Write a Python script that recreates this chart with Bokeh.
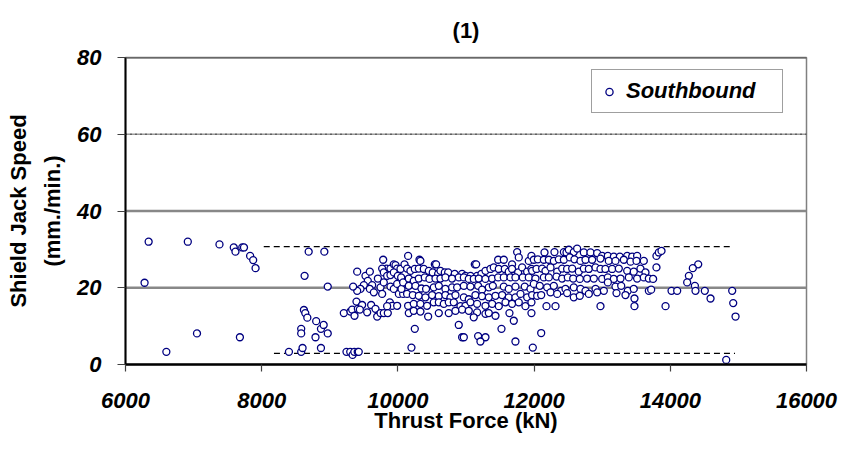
from bokeh.plotting import figure
from bokeh.models import Range1d, FixedTicker, Span, Legend, LegendItem
from bokeh.embed import file_html
from bokeh.resources import INLINE

# ---------------- data ----------------
x_ticks = [6000, 8000, 10000, 12000, 14000, 16000]
y_ticks = [0, 20, 40, 60, 80]
solid_grid = [20, 40]
dotted_grid = [60]
top_grid = [80]
chart_title = "(1)"

# envelope lines (dashed)
upper_x = [8030, 14930]
upper_y = [30.7, 30.7]
lower_x = [8180, 14950]
lower_y = [2.9, 2.9]

# sparse points, low thrust
thrust_a = [6280, 6340, 6600, 6915, 7050, 7380, 7590, 7615, 7680, 7715, 7740, 7830, 7875, 7910,
            8400, 8580, 8580, 8580, 8600, 8620, 8640, 8670, 8630, 8690, 8790, 8800, 8870, 8870,
            8910, 8970, 8920, 8970, 9245, 9300, 9335, 9360, 9410, 9425]
speed_a = [21.3, 32.0, 3.3, 32.0, 8.1, 31.3, 30.5, 29.4, 7.1, 30.5, 30.5, 28.3, 27.2, 25.1,
           3.3, 9.3, 8.1, 3.3, 4.3, 14.2, 13.4, 12.2, 23.1, 29.4, 7.1, 11.3, 9.3, 4.3,
           10.3, 8.1, 29.4, 20.3, 3.3, 3.3, 2.5, 3.3, 3.3, 3.3]

# 9200 - 10100 kN
thrust_b = [9206, 9304, 9328, 9363, 9412, 9392, 9475, 9441, 9549, 9607, 9671, 9696, 9745, 9793,
            9852, 9882, 9916, 9989, 9842, 9402, 9524, 9588, 9558, 9622, 9500, 9451, 9402, 9343,
            9588, 9647, 9706, 9745, 9793, 9769, 9891, 9940, 9989, 10014, 10077, 10053, 9784, 9833,
            9891, 9940, 9965, 9989, 10038, 10097, 9769, 9793, 9842, 9891, 9940, 9999, 10048, 10077]
speed_b = [13.4, 13.8, 14.3, 12.7, 14.5, 16.4, 15.5, 14.3, 13.6, 15.5, 14.5, 12.5, 13.4, 13.4,
           13.4, 16.2, 15.3, 15.3, 15.2, 24.2, 23.1, 24.2, 21.8, 20.7, 20.7, 19.7, 19.2, 20.3,
           19.7, 18.8, 22.4, 20.1, 21.4, 18.4, 20.3, 19.7, 21.0, 18.4, 18.4, 19.7, 27.3, 25.0,
           25.0, 26.1, 25.9, 25.0, 24.9, 26.1, 25.0, 24.0, 23.1, 23.3, 24.0, 23.1, 22.7, 21.4]

# 10100 - 11980 kN
thrust_c = [10150, 10317, 10331, 10542, 10561, 11129, 11149, 11472, 11555, 11677, 11751, 11775, 11922, 11961,
            10135, 10184, 10248, 10307, 10380, 10454, 10512, 10591, 10625, 10689, 10738, 10835, 10943, 10992,
            11066, 11163, 11227, 11286, 11359, 11408, 11482, 11570, 11628, 11677, 11766, 11824, 11898, 11961,
            10160, 10233, 10307, 10395, 10463, 10552, 10625, 10698, 10796, 10894, 10968, 11041, 11114, 11188,
            11286, 11384, 11472, 11555, 11653, 11726, 11834, 11922,
            10160, 10258, 10346, 10414, 10527, 10601, 10698, 10796, 10870, 10968, 11066, 11178, 11237, 11335,
            11394, 11555, 11628, 11726, 11863, 11947,
            10135, 10219, 10307, 10405, 10503, 10601, 10698, 10772, 10845, 10968, 11041, 11139, 11237, 11335,
            11433, 11531, 11628, 11726, 11800, 11898, 11971,
            10150, 10233, 10331, 10429, 10527, 10601, 10674, 10747, 10821, 10919, 10992, 11066, 11163, 11286,
            11384, 11482, 11580, 11677, 11775, 11873, 11961,
            10160, 10233, 10331, 10444, 10601, 10747, 10845, 10943, 11041, 11163, 11286, 11335, 11433, 11638, 11961,
            11114, 11702, 10248, 10894, 11521, 10943, 10968, 11178, 11286, 11212, 11726, 10199, 11981]
speed_c = [28.3, 27.3, 27.0, 26.1, 26.1, 26.1, 26.1, 27.3, 27.3, 26.1, 29.3, 27.9, 27.0, 28.3,
           25.0, 24.4, 24.9, 25.0, 24.9, 24.4, 24.0, 23.6, 24.4, 24.0, 24.0, 23.6, 23.6, 23.1,
           23.1, 23.1, 23.6, 24.4, 24.9, 25.3, 24.9, 24.9, 24.2, 24.9, 24.0, 25.3, 24.2, 24.9,
           22.4, 21.8, 22.4, 22.7, 22.3, 22.4, 22.4, 22.7, 22.4, 22.7, 22.7, 22.3, 22.3, 22.4,
           22.3, 22.4, 22.7, 22.7, 22.7, 22.7, 22.7, 22.7,
           20.5, 20.5, 19.8, 19.7, 20.1, 20.5, 19.7, 20.1, 20.1, 20.5, 20.3, 20.5, 19.5, 20.1,
           20.5, 20.3, 19.7, 20.3, 20.3, 19.7,
           18.4, 18.1, 17.9, 17.5, 18.1, 17.8, 18.1, 17.5, 18.1, 17.5, 17.0, 18.1, 17.8, 17.5,
           17.9, 18.1, 17.5, 17.5, 18.4, 17.5, 18.1,
           15.3, 15.8, 15.8, 15.3, 16.2, 16.2, 15.8, 16.2, 16.2, 15.2, 15.3, 16.2, 15.8, 15.3,
           15.8, 15.2, 16.2, 15.8, 16.2, 15.2, 16.2,
           13.4, 14.0, 13.8, 12.5, 13.4, 13.4, 14.0, 14.3, 14.0, 13.6, 13.2, 13.4, 12.7, 13.4, 13.4,
           12.3, 11.4, 9.3, 10.3, 9.3, 7.1, 7.1, 7.4, 7.1, 6.0, 6.0, 4.4, 4.4]

# 11990 - 13800 kN
thrust_d = [12153, 12299, 12437, 12476, 12510, 12583, 12632, 12730, 12828, 12926, 13000, 13083, 13171, 13259,
            13367, 13440, 13513, 13797,
            11996, 12055, 12143, 12216, 12290, 12363, 12437, 12525, 12593, 12681, 12755, 12853, 12975, 13097,
            13195, 13318, 13416, 13504, 13611,
            11971, 12035, 12118, 12167, 12241, 12339, 12412, 12485, 12559, 12657, 12730, 12804, 12902, 12975,
            13048, 13146, 13244, 13367, 13464, 13562, 13636, 13797,
            12020, 12143, 12216, 12329, 12412, 12495, 12574, 12671, 12779, 12877, 13000, 13083, 13171, 13269,
            13391, 13513, 13611, 13685, 13748,
            11996, 12084, 12192, 12290, 12397, 12461, 12583, 12681, 12755, 12902, 13024, 13083, 13195, 13279,
            13376, 13464, 13685, 13719,
            12045, 12104, 12241, 12339, 12485, 12583, 12671, 12804, 12926, 13210, 13342, 13474,
            12182, 12314, 12975, 13474, 12104]
speed_d = [29.2, 29.3, 29.3, 29.2, 29.9, 29.3, 30.2, 29.2, 29.2, 29.0, 28.3, 28.3, 28.1, 28.1,
           28.3, 28.1, 28.3, 28.3,
           27.3, 27.4, 27.3, 27.3, 27.0, 27.4, 27.3, 27.9, 27.4, 27.0, 27.3, 27.3, 27.6, 27.0,
           27.0, 27.3, 26.8, 27.0, 27.0,
           24.4, 24.9, 25.0, 24.4, 25.3, 24.2, 25.0, 24.9, 25.0, 24.2, 25.0, 24.9, 25.3, 24.9,
           24.9, 24.9, 25.0, 24.4, 24.2, 25.0, 24.0, 25.3,
           22.4, 22.7, 22.7, 22.9, 22.4, 22.7, 22.4, 22.3, 22.4, 22.4, 22.3, 22.7, 22.3, 22.4,
           22.7, 22.4, 22.7, 22.4, 22.3,
           21.0, 20.5, 20.1, 20.5, 19.2, 19.7, 20.1, 19.7, 19.2, 19.7, 19.2, 21.4, 20.3, 20.5,
           19.2, 19.7, 19.2, 19.5,
           17.9, 18.1, 18.8, 18.4, 18.6, 17.5, 17.9, 18.4, 18.8, 18.6, 18.1, 17.2,
           15.2, 15.2, 15.2, 15.2, 8.2]

# above 13800 kN
thrust_e = [13832, 13871, 14410, 14331, 14273, 14248, 14361, 14370, 14018, 14101, 14507, 14909,
            14591, 13930, 14924, 14958, 14821]
speed_e = [29.2, 29.6, 26.1, 25.1, 23.1, 21.4, 20.5, 19.2, 19.2, 19.2, 19.2, 19.2,
           17.2, 15.2, 16.0, 12.5, 1.2]

thrust = thrust_a + thrust_b + thrust_c + thrust_d + thrust_e
speed = speed_a + speed_b + speed_c + speed_d + speed_e

# ---------------- figure ----------------
FONT = "Liberation Sans"
p = figure(width=845, height=453, output_backend="svg", toolbar_location=None,
           x_range=Range1d(6000, 16000), y_range=Range1d(0, 80),
           min_border_left=125, min_border_right=39, min_border_top=56, min_border_bottom=89,
           title=chart_title, background_fill_color="white", border_fill_color="white")

p.title.align = "center"
p.title.text_font = FONT
p.title.text_font_size = "22px"
p.title.text_font_style = "bold"
p.title.text_color = "black"
p.title.standoff = 30

p.xgrid.visible = False
p.ygrid.visible = False
p.outline_line_color = "#808080"
p.outline_line_width = 1.5

for lvl in solid_grid:
    p.add_layout(Span(location=lvl, dimension="width", line_color="#888888", line_width=2.3, level="underlay"))
for lvl in dotted_grid:
    p.add_layout(Span(location=lvl, dimension="width", line_color="#9a9a9a", line_width=1.5, level="underlay"))
    p.add_layout(Span(location=lvl, dimension="width", line_color="#222222", line_width=1.5,
                      line_dash="1 4", level="underlay"))
for lvl in top_grid:
    p.add_layout(Span(location=lvl, dimension="width", line_color="#505050", line_width=2))

for ax in (p.xaxis[0], p.yaxis[0]):
    ax.major_label_text_font = FONT
    ax.major_label_text_font_size = "22px"
    ax.major_label_text_font_style = "bold italic"
    ax.major_label_text_color = "black"
    ax.axis_label_text_font = FONT
    ax.axis_label_text_font_style = "bold"
    ax.axis_label_text_color = "black"
    ax.axis_line_color = "black"
    ax.major_tick_in = 0
    ax.minor_tick_in = 0
    ax.minor_tick_out = 0
    ax.major_tick_line_color = "#404040"
    ax.major_tick_line_width = 1.2

p.xaxis.ticker = FixedTicker(ticks=x_ticks)
p.yaxis.ticker = FixedTicker(ticks=y_ticks)
p.xaxis.axis_line_width = 2.5
p.yaxis.axis_line_width = 2
p.xaxis.major_tick_out = 7
p.yaxis.major_tick_out = 8
p.xaxis.major_label_standoff = 21
p.yaxis.major_label_standoff = 16
p.xaxis.axis_label = "Thrust Force (kN)"
p.xaxis.axis_label_text_font_size = "22px"
p.xaxis.axis_label_standoff = -3
p.yaxis.axis_label = "Shield Jack Speed\n(mm./min.)"
p.yaxis.axis_label_text_font_size = "22px"
p.yaxis.axis_label_text_line_height = 1.35
p.yaxis.axis_label_standoff = 9

p.line(upper_x, upper_y, line_color="black", line_width=1.3, line_dash="6 4")
p.line(lower_x, lower_y, line_color="black", line_width=1.3, line_dash="6 4")

r = p.scatter(thrust, speed, marker="circle", size=7, line_color="#000080",
              fill_color="white", line_width=1.3)

legend = Legend(items=[LegendItem(label="Southbound", renderers=[r])],
                location=(466, 251), margin=0, padding=8, spacing=0,
                glyph_width=18, glyph_height=21, label_standoff=8, label_width=148,
                label_height=21,
                label_text_font=FONT, label_text_font_size="22px",
                label_text_font_style="bold italic", label_text_color="black",
                border_line_color="#404040", border_line_width=1,
                background_fill_color="white", background_fill_alpha=1)
p.add_layout(legend)

open("out.html", "w").write(file_html(p, INLINE))
